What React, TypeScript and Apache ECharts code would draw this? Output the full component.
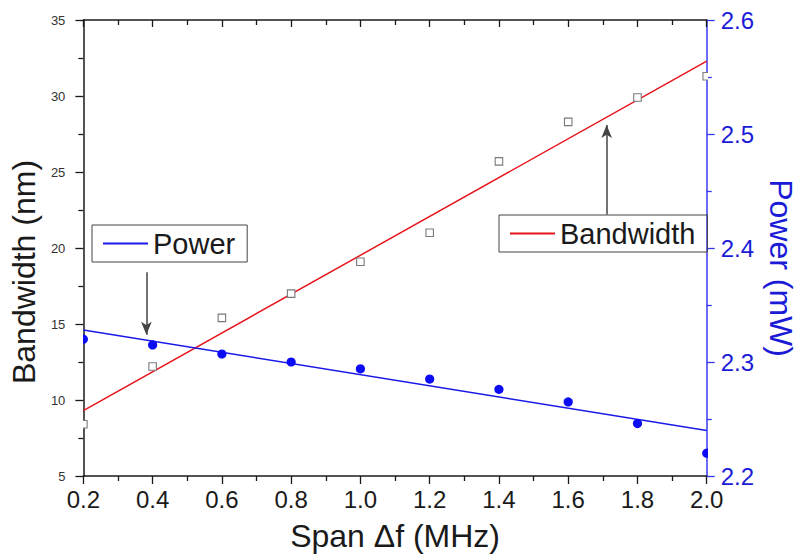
import React, { useEffect, useRef } from "react";
import * as echarts from "echarts";

// ---- data ----
const spanValues = [0.2, 0.4, 0.6, 0.8, 1.0, 1.2, 1.4, 1.6, 1.8, 2.0];
const bandwidthValues = [8.4, 12.2, 15.4, 17.0, 19.1, 21.0, 25.7, 28.3, 29.9, 31.3];
const powerValues = [2.32, 2.315, 2.307, 2.3, 2.294, 2.285, 2.276, 2.265, 2.246, 2.22];

// linear fits (end points)
const fitSpan = [0.2, 2.0];
const bandwidthFit = [9.3, 32.3];
const powerFit = [2.328, 2.24];

// annotation arrows (data coordinates on the left axis)
const powerArrow = { x: 0.382, from: 18.4, to: 14.3 };
const bandwidthArrow = { x: 1.711, from: 22.2, to: 28.1 };

const FONT = "'Liberation Sans', Arial, Helvetica, sans-serif";
const BLUE = "#1a1ae8";
const BLUE_TEXT = "#1b1bd6";
const RED = "#e8141c";
const BLACK = "#1a1a1a";

export default function App() {
  const ref = useRef<HTMLDivElement>(null);

  useEffect(() => {
    if (!ref.current) return;
    const chart = echarts.init(ref.current, null, { renderer: "svg" });

    const bwData = spanValues.map((x, i) => [x, bandwidthValues[i]]);
    const pwData = spanValues.map((x, i) => [x, powerValues[i]]);
    const bwFitData = fitSpan.map((x, i) => [x, bandwidthFit[i]]);
    const pwFitData = fitSpan.map((x, i) => [x, powerFit[i]]);

    const axisLineBlack = { show: true, lineStyle: { color: BLACK, width: 1.5 } };

    const legendBase = {
      orient: "horizontal",
      padding: [4, 12, 4, 11],
      icon: "rect",
      itemWidth: 45,
      itemHeight: 1.8,
      borderColor: "#444",
      borderWidth: 1,
      selectedMode: false,
      textStyle: { fontSize: 29, color: BLACK, fontFamily: FONT },
    };

    chart.setOption({
      animation: false,
      backgroundColor: "#ffffff",
      textStyle: { fontFamily: FONT },
      grid: { left: 81, right: 92, top: 20, bottom: 81, containLabel: false },
      legend: [
        { ...legendBase, data: ["Power"], left: 92, top: 225 },
        { ...legendBase, data: ["Bandwidth"], left: 499, top: 215 },
      ],
      xAxis: [
        {
          type: "value",
          position: "bottom",
          min: 0.2,
          max: 2.0,
          interval: 0.2,
          name: "Span \u0394f (MHz)",
          nameLocation: "middle",
          nameGap: 44,
          nameTextStyle: { fontSize: 32, color: BLACK, fontFamily: FONT },
          axisLine: axisLineBlack,
          axisTick: { show: true, inside: false, length: 8, lineStyle: { color: BLACK, width: 1.3 } },
          minorTick: { show: true, splitNumber: 2, length: 5, lineStyle: { color: BLACK, width: 1.3 } },
          axisLabel: {
            fontSize: 24,
            color: BLACK,
            margin: 11,
            formatter: (v: number) => v.toFixed(1),
          },
          splitLine: { show: false },
          minorSplitLine: { show: false },
        },
        {
          type: "value",
          position: "top",
          min: 0.2,
          max: 2.0,
          interval: 0.2,
          axisLine: axisLineBlack,
          axisTick: { show: true, inside: true, length: 7, lineStyle: { color: BLACK, width: 1.3 } },
          minorTick: { show: true, splitNumber: 2, length: 5, lineStyle: { color: BLACK, width: 1.3 } },
          axisLabel: { show: false },
          splitLine: { show: false },
        },
      ],
      yAxis: [
        {
          type: "value",
          position: "left",
          min: 5,
          max: 35,
          interval: 5,
          name: "Bandwidth (nm)",
          nameLocation: "middle",
          nameGap: 34,
          nameTextStyle: {
            fontSize: 32,
            color: BLACK,
            fontFamily: FONT,
            padding: [0, 48, 0, 0],
          },
          axisLine: axisLineBlack,
          axisTick: { show: true, inside: false, length: 8, lineStyle: { color: BLACK, width: 1.3 } },
          minorTick: { show: true, splitNumber: 2, length: 5, lineStyle: { color: BLACK, width: 1.3 } },
          axisLabel: { fontSize: 13, color: "#333", margin: 18 },
          splitLine: { show: false },
        },
        {
          type: "value",
          position: "right",
          min: 2.2,
          max: 2.6,
          interval: 0.1,
          name: "Power (mW)",
          nameLocation: "middle",
          nameRotate: -90,
          nameGap: 58,
          nameTextStyle: {
            fontSize: 32,
            color: BLUE_TEXT,
            fontFamily: FONT,
            padding: [0, 0, 0, 40],
          },
          axisLine: { show: true, lineStyle: { color: "#3838f0", width: 1.5 } },
          axisTick: { show: true, inside: false, length: 8, lineStyle: { color: "#3838f0", width: 1.3 } },
          minorTick: { show: true, splitNumber: 2, length: 5, lineStyle: { color: "#3838f0", width: 1.3 } },
          axisLabel: {
            fontSize: 24,
            color: BLUE_TEXT,
            margin: 14,
            formatter: (v: number) => v.toFixed(1),
          },
          splitLine: { show: false },
        },
      ],
      series: [
        {
          name: "Bandwidth",
          type: "line",
          xAxisIndex: 0,
          yAxisIndex: 0,
          data: bwFitData,
          symbol: "none",
          lineStyle: { color: RED, width: 1.5 },
          itemStyle: { color: RED },
          silent: true,
          z: 2,
          markLine: {
            silent: true,
            symbol: ["none", "arrow"],
            symbolSize: [8, 13],
            label: { show: false },
            lineStyle: { color: "#444", width: 1.5, type: "solid" },
            emphasis: { disabled: true },
            data: [
              [
                { coord: [powerArrow.x, powerArrow.from] },
                { coord: [powerArrow.x, powerArrow.to] },
              ],
              [
                { coord: [bandwidthArrow.x, bandwidthArrow.from] },
                { coord: [bandwidthArrow.x, bandwidthArrow.to] },
              ],
            ],
          },
        },
        {
          name: "Power",
          type: "line",
          xAxisIndex: 0,
          yAxisIndex: 1,
          data: pwFitData,
          symbol: "none",
          lineStyle: { color: BLUE, width: 1.5 },
          itemStyle: { color: BLUE },
          silent: true,
          z: 2,
        },
        {
          name: "Bandwidth data",
          type: "custom",
          xAxisIndex: 0,
          yAxisIndex: 0,
          clip: true,
          silent: true,
          z: 3,
          data: bwData,
          encode: { x: 0, y: 1 },
          renderItem: (params: any, api: any) => {
            const p = api.coord([api.value(0), api.value(1)]);
            const s = 7.5;
            return {
              type: "rect",
              shape: { x: p[0] - s / 2, y: p[1] - s / 2, width: s, height: s },
              style: { fill: "#ffffff", stroke: "#7a7a7a", lineWidth: 1.1 },
            };
          },
        },
        {
          name: "Power data",
          type: "custom",
          xAxisIndex: 0,
          yAxisIndex: 1,
          clip: true,
          silent: true,
          z: 3,
          data: pwData,
          encode: { x: 0, y: 1 },
          renderItem: (params: any, api: any) => {
            const p = api.coord([api.value(0), api.value(1)]);
            return {
              type: "circle",
              shape: { cx: p[0], cy: p[1], r: 4.6 },
              style: { fill: "#0b0bf5" },
            };
          },
        },
      ],
    });

    return () => chart.dispose();
  }, []);

  return (
    <div
      ref={ref}
      style={{ position: "fixed", left: 0, top: 0, width: 805, height: 557, background: "#fff" }}
    />
  );
}
